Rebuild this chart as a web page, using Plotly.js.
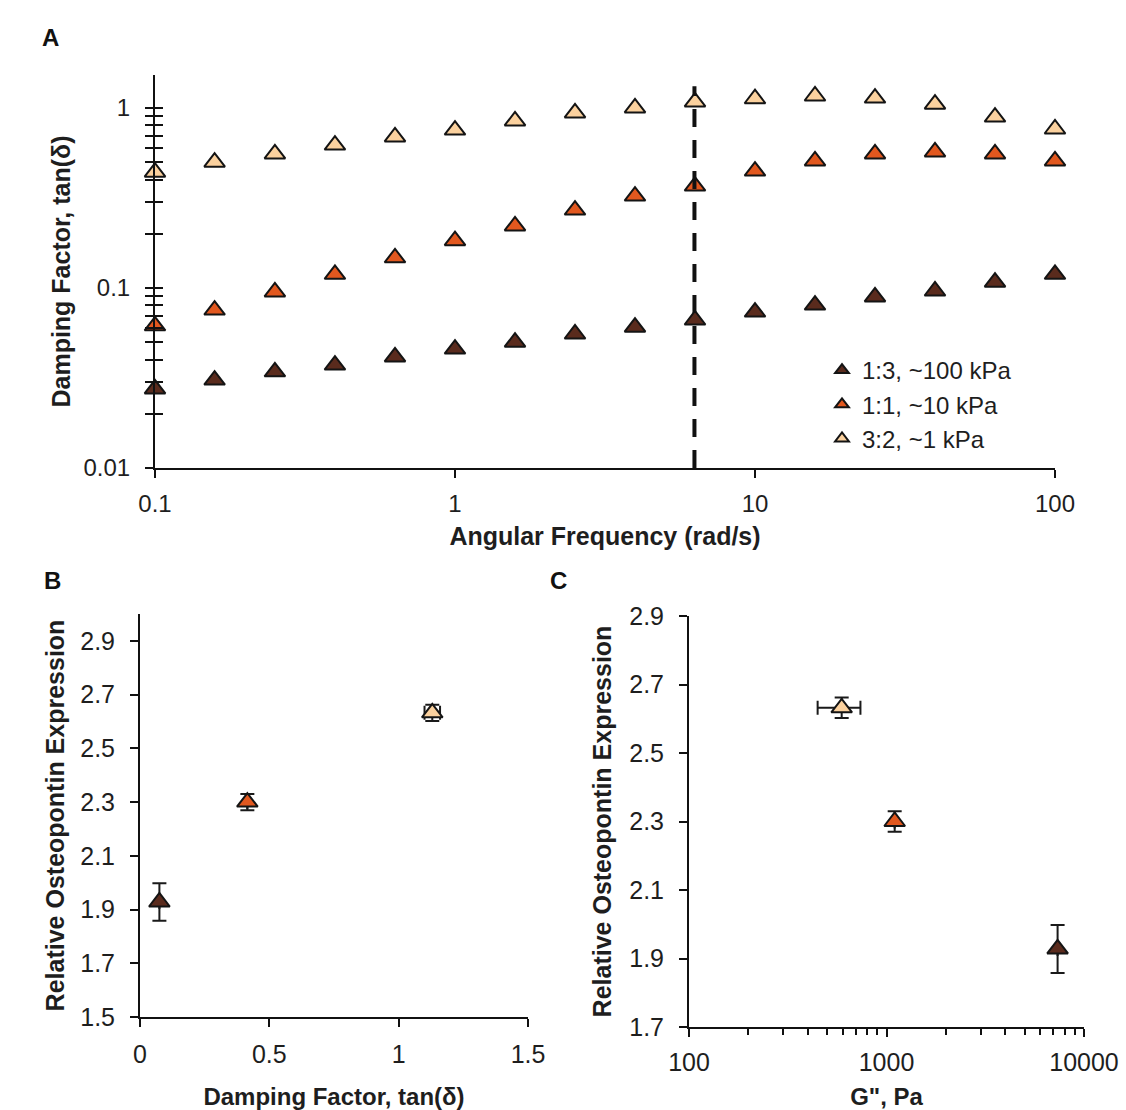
<!DOCTYPE html>
<html><head><meta charset="utf-8">
<script src="https://cdn.plot.ly/plotly-3.0.1.min.js"></script>
<style>body{margin:0;background:#fff}#chart{width:1126px;height:1110px}</style>
</head><body><div id="chart"></div>
<script>
// ---- Panel A: frequency sweep ----
const freq = [0.1,0.158,0.251,0.398,0.631,1,1.585,2.512,3.981,6.31,10,15.85,25.12,39.81,63.1,100];
const tanD_13 = [0.0275,0.0308,0.0342,0.0373,0.0414,0.0458,0.050,0.0555,0.0606,0.0664,0.0735,0.0804,0.0892,0.0962,0.1077,0.119];
const tanD_11 = [0.0616,0.0754,0.095,0.119,0.147,0.183,0.221,0.271,0.324,0.368,0.446,0.508,0.555,0.570,0.555,0.508];
const tanD_32 = [0.44,0.50,0.555,0.622,0.69,0.754,0.847,0.938,1.0,1.08,1.125,1.165,1.135,1.05,0.89,0.764];
const seriesNames = ['1:3, ~100 kPa','1:1, ~10 kPa','3:2, ~1 kPa'];
const seriesColors = ['#5a2b1d','#e2581f','#fbd19e'];
const omega1Hz = [6.283, 6.283];
const dashRange = [0.01, 1.32];
// ---- Panel B / C: osteopontin expression ----
const tanDAt1Hz = [0.075, 0.415, 1.13];
const tanDAt1HzErr = [0, 0, 0.03];
const opnExpr = [1.928, 2.30, 2.632];
const opnErr = [0.07, 0.03, 0.03];
const lossMod = [7350, 1100, 593];
const lossModErr = [0, 0, 145];
const gTickVals = [100, 1000, 10000];
const gTickText = ['100', '1000', '10000'];

const FONT = 'Liberation Sans, Arial, Helvetica, sans-serif';
const TXT = '#1e1e1e';
const tickFontA = {family: FONT, size: 24, color: TXT};
const tickFontBC = {family: FONT, size: 25, color: TXT};
const titleFont = {family: FONT, size: 25, color: TXT, weight: 'bold'};
const titleFontB = {family: FONT, size: 24, color: TXT, weight: 'bold'};
const markerLine = {color: '#141414', width: 2};

const traces = [];
const A = [tanD_13, tanD_11, tanD_32];
for (let i = 0; i < 3; i++) {
  traces.push({
    type: 'scatter', mode: 'markers', x: freq, y: A[i], name: seriesNames[i],
    xaxis: 'x', yaxis: 'y', cliponaxis: false, legendgroup: 'g' + i,
    marker: {symbol: 'triangle-up', size: 18, color: seriesColors[i], line: markerLine}
  });
}
traces.push({
  type: 'scatter', mode: 'lines', x: omega1Hz, y: dashRange, xaxis: 'x', yaxis: 'y4',
  showlegend: false, hoverinfo: 'skip',
  line: {color: '#111', width: 4, dash: '18px,13px'}
});
const errStyle = {color: '#1a1a1a', thickness: 2, width: 7};
traces.push({
  type: 'scatter', mode: 'markers', x: tanDAt1Hz, y: opnExpr, xaxis: 'x2', yaxis: 'y2',
  showlegend: false, cliponaxis: false,
  error_y: Object.assign({type: 'data', array: opnErr, visible: true}, errStyle),
  error_x: Object.assign({type: 'data', array: tanDAt1HzErr, visible: true}, errStyle),
  marker: {symbol: 'triangle-up', size: 18, color: seriesColors, line: markerLine}
});
traces.push({
  type: 'scatter', mode: 'markers', x: lossMod, y: opnExpr, xaxis: 'x3', yaxis: 'y3',
  showlegend: false, cliponaxis: false,
  error_y: Object.assign({type: 'data', array: opnErr, visible: true}, errStyle),
  error_x: Object.assign({type: 'data', array: lossModErr, visible: true}, errStyle),
  marker: {symbol: 'triangle-up', size: 18, color: seriesColors, line: markerLine}
});

const baseAxis = {
  showline: true, linecolor: '#111', linewidth: 2, showgrid: false, zeroline: false,
  ticks: 'outside', ticklen: 8, tickwidth: 2, tickcolor: '#111',
  tickfont: tickFontBC, automargin: false, fixedrange: true
};
function ax(extra) { return Object.assign({}, baseAxis, extra); }

const W = 1126, H = 1110;
const dx = (a, b) => [a / W, b / W];
const dy = (top, bot) => [1 - bot / H, 1 - top / H];

const layout = {
  width: W, height: H, margin: {l: 0, r: 0, t: 0, b: 0},
  paper_bgcolor: '#fff', plot_bgcolor: 'rgba(0,0,0,0)',
  font: {family: FONT, color: TXT},
  showlegend: true,
  legend: {x: 822 / W, y: 1 - 348 / H, xanchor: 'left', yanchor: 'top',
           font: {family: FONT, size: 24, color: TXT}, bgcolor: 'rgba(0,0,0,0)',
           itemwidth: 30, tracegroupgap: 4, traceorder: 'normal', itemsizing: 'constant'},
  xaxis: ax({type: 'log', range: [-1, 2], domain: dx(155, 1055), anchor: 'y',
             dtick: 1, exponentformat: 'none', ticklabelstandoff: 5, tickfont: tickFontA,
             title: {text: 'Angular Frequency (rad/s)', font: titleFont, standoff: 12}}),
  yaxis: ax({type: 'log', range: [-2, 0.183], domain: dy(75, 468), anchor: 'x',
             dtick: 1, exponentformat: 'none', ticklabelstandoff: 10, tickfont: tickFontA,
             minor: {ticks: 'outside', ticklen: 8, tickwidth: 2, tickcolor: '#111', dtick: 'D1', showgrid: false},
             title: {text: 'Damping Factor, tan(δ)', font: titleFont, standoff: 6}}),
  yaxis4: {type: 'log', range: [-2, 0.183], overlaying: 'y', anchor: 'x', side: 'left',
           showline: false, showgrid: false, zeroline: false, showticklabels: false,
           ticks: 'inside', ticklen: 8, tickwidth: 2, tickcolor: '#111', dtick: 1, fixedrange: true,
           minor: {ticks: 'inside', ticklen: 8, tickwidth: 2, tickcolor: '#111', dtick: 'D1', showgrid: false}},
  xaxis2: ax({range: [0, 1.5], dtick: 0.5, tick0: 0, domain: dx(140, 528), anchor: 'y2',
              ticklabelstandoff: 6,
              title: {text: 'Damping Factor, tan(δ)', font: titleFontB, standoff: 26}}),
  yaxis2: ax({range: [1.5, 3.0], dtick: 0.2, tick0: 1.5, domain: dy(614, 1017), anchor: 'x2',
              tickformat: '.1f', ticklabelstandoff: 10,
              title: {text: 'Relative Osteopontin Expression', font: titleFont, standoff: 8}}),
  xaxis3: ax({type: 'log', range: [2, 4], domain: dx(689, 1084), anchor: 'y3',
              tickmode: 'array', tickvals: gTickVals, ticktext: gTickText, ticklabelstandoff: 4,
              minor: {ticks: 'outside', ticklen: 6, tickwidth: 2, tickcolor: '#111', dtick: 'D1', showgrid: false},
              title: {text: 'G", Pa', font: titleFontB, standoff: 24}}),
  yaxis3: ax({range: [1.7, 2.9], dtick: 0.2, tick0: 1.7, domain: dy(616, 1027), anchor: 'x3',
              tickformat: '.1f', ticklabelstandoff: 10,
              title: {text: 'Relative Osteopontin Expression', font: titleFont, standoff: 10}}),
  annotations: [
    {text: 'A', x: 40 / W, y: 1 - 22 / H, xref: 'paper', yref: 'paper', showarrow: false,
     font: {family: FONT, size: 24, color: '#111', weight: 'bold'}},
    {text: 'B', x: 42 / W, y: 1 - 580 / H, xref: 'paper', yref: 'paper', showarrow: false,
     font: {family: FONT, size: 24, color: '#111', weight: 'bold'}},
    {text: 'C', x: 558 / W, y: 1 - 580 / H, xref: 'paper', yref: 'paper', showarrow: false,
     font: {family: FONT, size: 24, color: '#111', weight: 'bold'}}
  ]
};

Plotly.newPlot('chart', traces, layout, {displayModeBar: false, staticPlot: true});
</script>
</body></html>
